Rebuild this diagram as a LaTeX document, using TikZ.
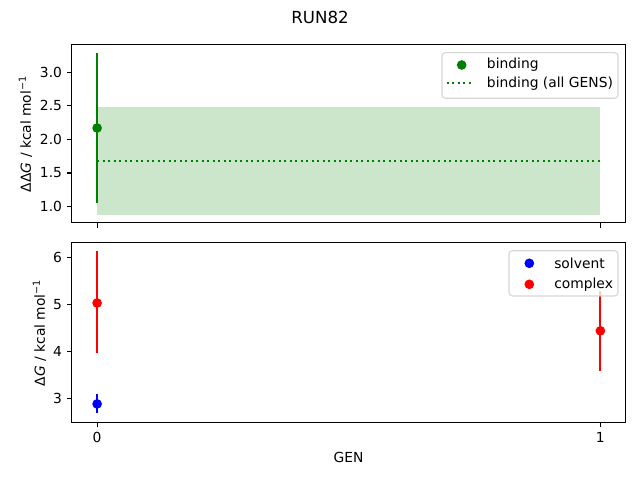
\documentclass[tikz,border=0pt]{standalone}
\usepackage{fontspec}
\setmainfont{DejaVu Sans}
\usetikzlibrary{positioning}
\definecolor{mplgreen}{rgb}{0,0.502,0}
\definecolor{mplblue}{rgb}{0,0,1}
\definecolor{mplred}{rgb}{1,0,0}
\definecolor{legedge}{gray}{0.8}

\begin{document}
\begin{tikzpicture}[x=0.01in, y=-0.01in,
  spine/.style={line width=0.8pt, black},
  tickmark/.style={line width=0.8pt, black},
  ticklab/.style={font=\fontsize{10}{12}\selectfont, inner sep=0pt},
  errbar/.style={line width=1.5pt},
  dotline/.style={mplgreen, line width=1.5pt, dash pattern=on 1.5pt off 2.475pt},
  legbox/.style={draw=legedge, fill=white, fill opacity=0.8, draw opacity=0.8, rounded corners=2.5pt, line width=0.8pt},
  legtext/.style={font=\fontsize{10}{12}\selectfont, inner sep=0pt, anchor=west}]
\useasboundingbox (0,0) rectangle (640,480);

\node[font=\fontsize{12}{14}\selectfont] (title) at (320,17) {RUN82};

% top panel: binding free energy
\begin{scope}[shift={(97.1,273.9)}, x=5.03in, y=0.672in]
  \fill[mplgreen, opacity=0.2] (0,0.876) rectangle (1,2.479);
  \draw[dotline] (0,1.685) -- (1,1.685);
  \draw[errbar, mplgreen] (0,1.057) -- (0,3.283);
  \fill[mplgreen] (0,2.17) circle (3.5pt);
  \draw[spine] (-0.05,0.762) rectangle (1.05,3.406);
  \foreach \v in {1.0,1.5,2.0,2.5,3.0} {
    \draw[tickmark] (-0.05,\v) -- ++(-3.5pt,0);
    \node[ticklab, anchor=east, xshift=-7pt] at (-0.05,\v) {\v};
  }
  \foreach \g in {0,1}
    \draw[tickmark] (\g,0.762) -- ++(0,-3.5pt);
\end{scope}
\node[font=\fontsize{10}{12}\selectfont, rotate=90, anchor=south, inner sep=0pt] (ylabtop) at (32.5,133.9) {ΔΔ\textit{G} / kcal mol\textsuperscript{−1}};

% bottom panel: solvent and complex legs
\begin{scope}[shift={(97.1,538.9)}, x=5.03in, y=0.4687in]
  \draw[errbar, mplred] (0,3.957) -- (0,6.143);
  \fill[mplred] (0,5.03) circle (3.5pt);
  \draw[errbar, mplblue] (0,2.68) -- (0,3.09);
  \fill[mplblue] (0,2.878) circle (3.5pt);
  \draw[errbar, mplred] (1,3.59) -- (1,5.29);
  \fill[mplred] (1,4.437) circle (3.5pt);
  \draw[spine] (-0.05,2.488) rectangle (1.05,6.313);
  \foreach \v in {3,4,5,6} {
    \draw[tickmark] (-0.05,\v) -- ++(-3.5pt,0);
    \node[ticklab, anchor=east, xshift=-7pt] at (-0.05,\v) {\v};
  }
  \foreach \g in {0,1} {
    \draw[tickmark] (\g,2.488) -- ++(0,-3.5pt);
    \node[ticklab, anchor=north, yshift=-7pt] at (\g,2.488) {\g};
  }
\end{scope}
\node[font=\fontsize{10}{12}\selectfont, rotate=90, anchor=south, inner sep=0pt] (ylabbot) at (46.5,332.7) {Δ\textit{G} / kcal mol\textsuperscript{−1}};
\node[font=\fontsize{10}{12}\selectfont] (xlab) at (348.5,457) {GEN};

% legends
\draw[legbox] (442,52.7) rectangle (618,98.3);
\fill[mplgreen] (461.7,65) circle (3.5pt);
\node[legtext] (legbind) at (486.7,65) {binding};
\draw[dotline] (446.7,83.3) -- (471.7,83.3);
\node[legtext] (legall) at (486.7,83.3) {binding (all GENS)};

\draw[legbox] (509,250.7) rectangle (618,296);
\fill[mplblue] (529.3,263.3) circle (3.5pt);
\node[legtext] (legsolv) at (554,263.3) {solvent};
\fill[mplred] (529.3,284.3) circle (3.5pt);
\node[legtext] (legcplx) at (554,284.3) {complex};
\end{tikzpicture}
\end{document}
